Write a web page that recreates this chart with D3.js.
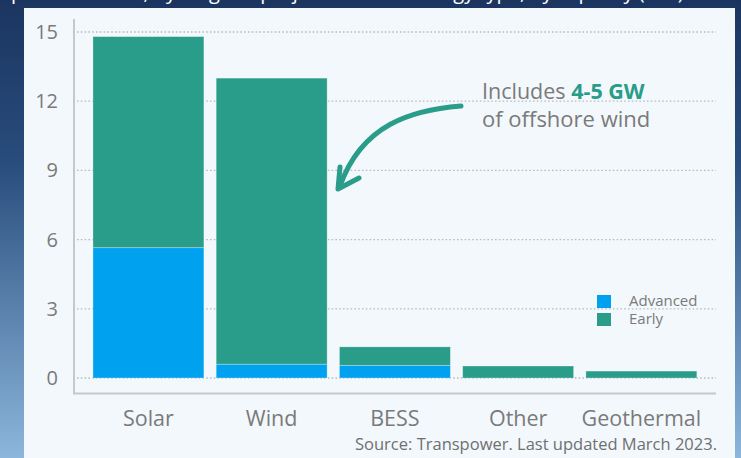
<!DOCTYPE html>
<html>
<head>
<meta charset="utf-8">
<script src="https://cdn.jsdelivr.net/npm/d3@7"></script>
<style>
  html, body { margin: 0; padding: 0; background: #1c3660; }
  svg { display: block; }
  text { font-family: "Open Sans", "Noto Sans", sans-serif; }
</style>
</head>
<body>
<svg id="chart" width="741" height="458"></svg>
<script>
// Generation pipeline by technology (GW), split by project stage
const categories = ["Solar", "Wind", "BESS", "Other", "Geothermal"];
const advanced = [5.65, 0.6, 0.55, 0, 0];
const early = [9.15, 12.4, 0.8, 0.52, 0.3];
const yTicks = [0, 3, 6, 9, 12, 15];
const seriesNames = ["Advanced", "Early"];
const seriesColors = ["#00a2ef", "#2a9c8a"];

const svg = d3.select("#chart");
const W = 741, H = 458;

// backdrop gradient
const defs = svg.append("defs");
const bg = defs.append("linearGradient").attr("id", "bg")
  .attr("x1", 0).attr("y1", 0).attr("x2", 0).attr("y2", 1);
bg.append("stop").attr("offset", "0%").attr("stop-color", "#1b3560");
bg.append("stop").attr("offset", "35%").attr("stop-color", "#284c7c");
bg.append("stop").attr("offset", "100%").attr("stop-color", "#8cb6dc");
svg.append("rect").attr("width", W).attr("height", H).attr("fill", "url(#bg)");

// title line above the panel (only its lower edge falls inside the frame)
svg.append("text")
  .attr("x", -6).attr("y", -1)
  .attr("fill", "#ffffff")
  .attr("font-size", 20)
  .text("Pipeline to 2030, by stage of project and technology type, by capacity (GW)");

// chart panel
svg.append("rect")
  .attr("x", 24).attr("y", 8).attr("width", 711).attr("height", 460)
  .attr("fill", "#f3f8fc");

const y = d3.scaleLinear().domain([0, 15]).range([378, 32]);
const x = d3.scaleBand().domain(categories)
  .range([86.8, 703]).paddingInner(0.1).paddingOuter(0.05);

// dotted gridlines
svg.append("g").selectAll("line").data(yTicks).join("line")
  .attr("x1", 77).attr("x2", 716)
  .attr("y1", d => y(d)).attr("y2", d => y(d))
  .attr("stroke", "#b8bcc0").attr("stroke-width", 1.3)
  .attr("stroke-dasharray", "1.6,2.2");

// y tick labels
svg.append("g").selectAll("text").data(yTicks).join("text")
  .attr("x", 58).attr("y", d => y(d))
  .attr("dy", "0.35em")
  .attr("text-anchor", "end")
  .attr("fill", "#7a7a7a")
  .attr("font-size", 20)
  .text(d => d);

// stacked bars
const rows = categories.map((c, i) => ({ cat: c, Advanced: advanced[i], Early: early[i] }));
const stacked = d3.stack().keys(seriesNames)(rows);
const color = d3.scaleOrdinal().domain(seriesNames).range(seriesColors);

svg.append("g").selectAll("g").data(stacked).join("g")
  .attr("fill", d => color(d.key))
  .selectAll("rect").data(d => d.filter(p => p[1] - p[0] > 0)).join("rect")
  .attr("x", d => x(d.data.cat))
  .attr("width", x.bandwidth())
  .attr("y", d => y(d[1]))
  .attr("height", d => y(d[0]) - y(d[1]))
  .attr("stroke", "rgba(255,255,255,0.35)")
  .attr("stroke-width", 0.8);

// axis lines
svg.append("line")
  .attr("x1", 74).attr("x2", 74).attr("y1", 19).attr("y2", 394)
  .attr("stroke", "#c6c8ca").attr("stroke-width", 2);
svg.append("line")
  .attr("x1", 73).attr("x2", 716).attr("y1", 393.5).attr("y2", 393.5)
  .attr("stroke", "#c6c8ca").attr("stroke-width", 2);

// category labels
svg.append("g").selectAll("text").data(categories).join("text")
  .attr("x", d => x(d) + x.bandwidth() / 2)
  .attr("y", 426)
  .attr("text-anchor", "middle")
  .attr("fill", "#7a7a7a")
  .attr("font-size", 21.5)
  .text(d => d);

// source note
svg.append("text")
  .attr("x", 717).attr("y", 450)
  .attr("text-anchor", "end")
  .attr("fill", "#6f6f6f")
  .attr("font-size", 16.5)
  .text("Source: Transpower. Last updated March 2023.");

// legend
const legend = svg.append("g");
seriesNames.forEach((name, i) => {
  legend.append("rect")
    .attr("x", 597).attr("y", 295 + i * 18)
    .attr("width", 14).attr("height", 13)
    .attr("fill", seriesColors[i]);
  legend.append("text")
    .attr("x", 629).attr("y", 306 + i * 18)
    .attr("fill", "#7a7a7a")
    .attr("font-size", 15)
    .text(name);
});

// annotation: offshore wind note with curved arrow
const note = svg.append("text")
  .attr("x", 482).attr("y", 99)
  .attr("fill", "#7a7a7a")
  .attr("font-size", 21.5);
note.append("tspan").text("Includes ");
note.append("tspan").attr("fill", "#2a9c8a").attr("font-weight", "bold").text("4-5 GW");
svg.append("text")
  .attr("x", 482).attr("y", 127)
  .attr("fill", "#7a7a7a")
  .attr("font-size", 22)
  .text("of offshore wind");

svg.append("path")
  .attr("d", "M461,106 C412,110 362,124 340,186")
  .attr("fill", "none")
  .attr("stroke", "#2a9c8a").attr("stroke-width", 5)
  .attr("stroke-linecap", "round");
svg.append("path")
  .attr("d", "M340,167 L338,189 L359,178")
  .attr("fill", "none")
  .attr("stroke", "#2a9c8a").attr("stroke-width", 5)
  .attr("stroke-linecap", "round").attr("stroke-linejoin", "round");
</script>
</body>
</html>
